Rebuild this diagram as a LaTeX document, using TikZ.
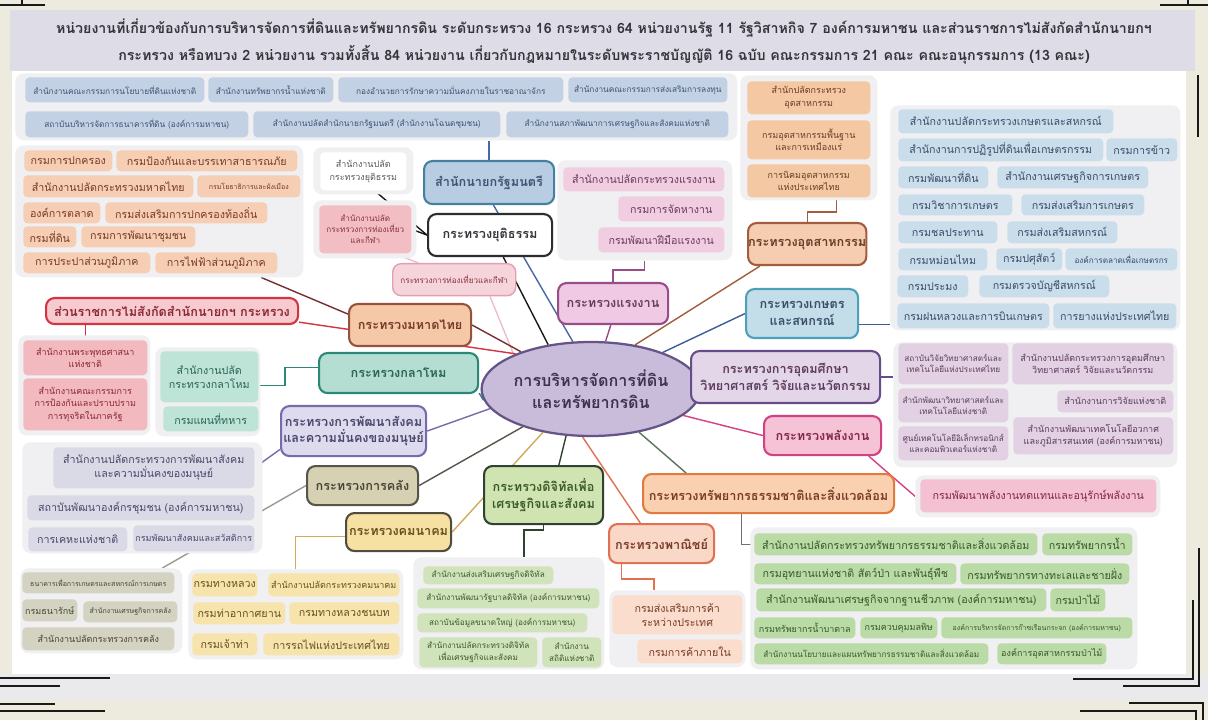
\documentclass[tikz,border=0pt]{standalone}
\usepackage{fontspec}
\setmainfont[Script=Thai]{Loma}
\usepackage{xcolor}
\usepackage{tikz}
\usetikzlibrary{shapes.geometric, calc}
\pgfdeclarelayer{paper}
\pgfdeclarelayer{links}
\pgfsetlayers{paper,links,main}
% neutral
\definecolor{papercream}{RGB}{236,235,222}
\definecolor{titlegray}{RGB}{222,220,230}
\definecolor{bandgray}{RGB}{234,234,237}
\definecolor{grpgray}{RGB}{240,240,243}
\definecolor{inkdark}{RGB}{52,52,58}
\definecolor{framedark}{RGB}{25,25,25}
% prime minister
\definecolor{pmfill}{RGB}{194,209,227}
\definecolor{pmtext}{RGB}{62,84,115}
\definecolor{pmnode}{RGB}{184,205,225}
\definecolor{pmedge}{RGB}{70,128,160}
\definecolor{pmlink}{RGB}{70,105,165}
% justice / tourism
\definecolor{jusedge}{RGB}{45,45,45}
\definecolor{jusleaftext}{RGB}{90,90,95}
\definecolor{tourfill}{RGB}{243,190,195}
\definecolor{tourtext}{RGB}{135,50,60}
\definecolor{tournode}{RGB}{246,212,220}
\definecolor{touredge}{RGB}{228,160,175}
\definecolor{tourlink}{RGB}{238,190,200}
% interior
\definecolor{intfill}{RGB}{246,206,180}
\definecolor{inttext}{RGB}{120,58,40}
\definecolor{intnode}{RGB}{245,200,168}
\definecolor{intedge}{RGB}{150,82,62}
\definecolor{intlink}{RGB}{118,48,48}
% non-affiliated
\definecolor{redfill}{RGB}{242,185,190}
\definecolor{redtext}{RGB}{140,40,52}
\definecolor{rednode}{RGB}{246,202,207}
\definecolor{rededge}{RGB}{210,52,66}
% defence
\definecolor{deffill}{RGB}{190,227,215}
\definecolor{deftext}{RGB}{42,100,86}
\definecolor{defnode}{RGB}{181,222,210}
\definecolor{defedge}{RGB}{44,136,118}
% social
\definecolor{socfill}{RGB}{218,218,231}
\definecolor{soctext}{RGB}{72,72,108}
\definecolor{socnode}{RGB}{223,219,238}
\definecolor{socedge}{RGB}{122,106,172}
% finance
\definecolor{finfill}{RGB}{212,210,192}
\definecolor{fintext}{RGB}{70,70,55}
\definecolor{finnode}{RGB}{215,209,180}
\definecolor{finedge}{RGB}{85,85,72}
% transport
\definecolor{tpfill}{RGB}{247,228,172}
\definecolor{tptext}{RGB}{100,80,30}
\definecolor{tpnode}{RGB}{246,224,162}
\definecolor{tpedge}{RGB}{80,76,62}
\definecolor{tplink}{RGB}{210,170,90}
% digital
\definecolor{digfill}{RGB}{208,227,186}
\definecolor{digtext}{RGB}{60,90,42}
\definecolor{dignode}{RGB}{208,228,178}
\definecolor{digedge}{RGB}{50,66,50}
% commerce
\definecolor{comfill}{RGB}{251,221,205}
\definecolor{comtext}{RGB}{122,60,42}
\definecolor{comnode}{RGB}{250,216,199}
\definecolor{comedge}{RGB}{226,112,82}
% natural resources
\definecolor{nrfill}{RGB}{186,218,166}
\definecolor{nrtext}{RGB}{56,90,40}
\definecolor{nrnode}{RGB}{249,208,176}
\definecolor{nredge}{RGB}{226,122,62}
\definecolor{nrlink}{RGB}{88,118,88}
% energy
\definecolor{enfill}{RGB}{243,193,209}
\definecolor{entext}{RGB}{130,40,70}
\definecolor{ennode}{RGB}{245,194,214}
\definecolor{enedge}{RGB}{210,66,130}
% higher education
\definecolor{hefill}{RGB}{226,208,227}
\definecolor{hetext}{RGB}{92,60,92}
\definecolor{henode}{RGB}{228,214,233}
\definecolor{heedge}{RGB}{102,76,136}
% agriculture
\definecolor{agfill}{RGB}{202,221,235}
\definecolor{agtext}{RGB}{60,76,106}
\definecolor{agnode}{RGB}{195,221,233}
\definecolor{agedge}{RGB}{76,160,186}
\definecolor{aglink}{RGB}{62,92,154}
% industry
\definecolor{indfill}{RGB}{245,200,164}
\definecolor{indtext}{RGB}{106,60,40}
\definecolor{indnode}{RGB}{247,205,177}
\definecolor{indedge}{RGB}{162,92,62}
% labour
\definecolor{labfill}{RGB}{241,205,225}
\definecolor{labtext}{RGB}{106,60,92}
\definecolor{labnode}{RGB}{240,202,228}
\definecolor{labedge}{RGB}{152,76,136}
% hub
\definecolor{hubfill}{RGB}{200,188,218}
\definecolor{hubedge}{RGB}{100,84,136}
\definecolor{hubtext}{RGB}{62,50,80}

\newcommand{\fleaf}{\fontsize{7.6}{10}\selectfont}
\newcommand{\fsmall}{\fontsize{6.4}{9}\selectfont}
\newcommand{\fband}{\fontsize{5.9}{8}\selectfont}
\newcommand{\ftiny}{\fontsize{5.8}{8}\selectfont}
\newcommand{\fmicro}{\fontsize{5}{7}\selectfont}
\newcommand{\fmin}{\bfseries\fontsize{9}{12}\selectfont}
\newcommand{\fhub}{\bfseries\fontsize{11.5}{16}\selectfont}
\newcommand{\fhead}{\bfseries\fontsize{10.1}{12}\selectfont}

\tikzset{
  grp/.style={rectangle, rounded corners=6pt, fill=grpgray, inner sep=0pt, anchor=north west},
  sz/.style 2 args={minimum width=#1*0.025cm, minimum height=#2*0.025cm},
  leaf/.style={rectangle, rounded corners=3pt, inner sep=0pt, align=center, anchor=north west, font=\fleaf},
  ministry/.style={rectangle, rounded corners=6pt, line width=1.5pt, inner sep=0pt, align=center, anchor=north west, font=\fmin},
  conn/.style={line width=1pt},
  frameline/.style={line width=2pt, draw=framedark},
  pmleaf/.style={leaf, fill=pmfill, text=pmtext},
  jusleaf/.style={leaf, fill=white, text=jusleaftext},
  tourleaf/.style={leaf, fill=tourfill, text=tourtext},
  intleaf/.style={leaf, fill=intfill, text=inttext},
  redleaf/.style={leaf, fill=redfill, text=redtext},
  defleaf/.style={leaf, fill=deffill, text=deftext},
  socleaf/.style={leaf, fill=socfill, text=soctext},
  finleaf/.style={leaf, fill=finfill, text=fintext},
  tpleaf/.style={leaf, fill=tpfill, text=tptext},
  digleaf/.style={leaf, fill=digfill, text=digtext},
  comleaf/.style={leaf, fill=comfill, text=comtext},
  nrleaf/.style={leaf, fill=nrfill, text=nrtext},
  enleaf/.style={leaf, fill=enfill, text=entext},
  heleaf/.style={leaf, fill=hefill, text=hetext},
  agleaf/.style={leaf, fill=agfill, text=agtext},
  indleaf/.style={leaf, fill=indfill, text=indtext},
  lableaf/.style={leaf, fill=labfill, text=labtext}
}

\begin{document}
\begin{tikzpicture}[x=0.025cm, y=-0.025cm]
  \useasboundingbox (0,0) rectangle (1208,720);

  % ── paper, title band and frame corners ──
  \begin{pgfonlayer}{paper}
    \fill[papercream] (0,0) rectangle (1208,720);
    \fill[titlegray] (10,10) rectangle (1195,71);
    \fill[white] (12,71) rectangle (1186,674);
    \fill[bandgray] (0,674) rectangle (1208,700);
    \draw[frameline] (0,5) -- (45,5);
    \draw[frameline] (22,0) -- (22,6);
    \draw[frameline] (1160,5) -- (1208,5);
    \draw[frameline] (1188,0) -- (1188,6);
    \draw[frameline] (1198,75) -- (1198,137);
    \draw[frameline] (0,678) -- (110,678);
    \draw[frameline] (0,686) -- (60,686);
    \draw[frameline] (0,704) -- (55,704);
    \draw[frameline] (0,711) -- (105,711);
    \draw[frameline] (1199,548) -- (1199,686) -- (1123,686);
    \draw[frameline] (1193,600) -- (1193,679) -- (1073,679);
    \draw[frameline] (1129,703) -- (1203,703) -- (1203,720);
    \draw[frameline] (1080,711) -- (1196,711) -- (1196,720);
  \end{pgfonlayer}

  \node[font=\fhead, text=inkdark] (head1) at (604,28) {หน่วยงานที่เกี่ยวข้องกับการบริหารจัดการที่ดินและทรัพยากรดิน ระดับกระทรวง 16 กระทรวง 64 หน่วยงานรัฐ 11 รัฐวิสาหกิจ 7 องค์การมหาชน และส่วนราชการไม่สังกัดสำนักนายกฯ};
  \node[font=\fhead, text=inkdark] (head2) at (604,55) {กระทรวง หรือทบวง 2 หน่วยงาน รวมทั้งสิ้น 84 หน่วยงาน เกี่ยวกับกฎหมายในระดับพระราชบัญญัติ 16 ฉบับ คณะกรรมการ 21 คณะ คณะอนุกรรมการ (13 คณะ)};

  % ── hub ──
  \node[ellipse, draw=hubedge, fill=hubfill, line width=1.6pt, minimum width=174*0.025cm, minimum height=94*0.025cm, inner sep=0pt, align=center, font=\fhub, text=hubtext] (hub) at (591,389) {การบริหารจัดการที่ดิน\\และทรัพยากรดิน};

  % ── Prime Minister's Office (top band) ──
  \node[grp, sz={722}{67}] (pmgrp) at (15,73) {};
  \node[pmleaf, font=\fband, sz={179}{25}] (pm1) at (25,77) {สำนักงานคณะกรรมการนโยบายที่ดินแห่งชาติ};
  \node[pmleaf, font=\fband, sz={125}{25}] (pm2) at (208,77) {สำนักงานทรัพยากรน้ำแห่งชาติ};
  \node[pmleaf, font=\fband, sz={225}{25}] (pm3) at (338,77) {กองอำนวยการรักษาความมั่นคงภายในราชอาณาจักร};
  \node[pmleaf, font=\fband, sz={159}{25}] (pm4) at (568,77) {สำนักงานคณะกรรมการส่งเสริมการลงทุน};
  \node[pmleaf, font=\fband, sz={223}{26}] (pm5) at (25,111) {สถาบันบริหารจัดการธนาคารที่ดิน (องค์การมหาชน)};
  \node[pmleaf, font=\fband, sz={247}{26}] (pm6) at (253,111) {สำนักงานปลัดสำนักนายกรัฐมนตรี (สำนักงานโฉนดชุมชน)};
  \node[pmleaf, font=\fband, sz={222}{26}] (pm7) at (506,111) {สำนักงานสภาพัฒนาการเศรษฐกิจและสังคมแห่งชาติ};
  \node[ministry, draw=pmedge, fill=pmnode, text=pmtext, sz={130}{43}] (pm) at (423,160) {สำนักนายกรัฐมนตรี};

  % ── Justice and Tourism ──
  \node[grp, sz={100}{47}] (jusgrp) at (313,147) {};
  \node[jusleaf, font=\fsmall, sz={86}{38}] (jussub) at (320,152) {สำนักงานปลัด\\กระทรวงยุติธรรม};
  \node[grp, sz={103}{58}] (tougrp) at (313,200) {};
  \node[tourleaf, font=\ftiny, sz={92}{48}] (tousub) at (319,205) {สำนักงานปลัด\\กระทรวงการท่องเที่ยว\\และกีฬา};
  \node[ministry, draw=jusedge, fill=white, text=inkdark, sz={124}{42}] (jus) at (427,213) {กระทรวงยุติธรรม};
  \node[ministry, line width=1pt, draw=touredge, fill=tournode, text=tourtext, font=\ftiny, sz={123}{32}] (tour) at (392,263) {กระทรวงการท่องเที่ยวและกีฬา};

  % ── Interior ──
  \node[grp, sz={288}{132}] (intgrp) at (15,145) {};
  \node[intleaf, sz={88}{21}] (int1) at (24,150) {กรมการปกครอง};
  \node[intleaf, sz={181}{21}] (int2) at (116,150) {กรมป้องกันและบรรเทาสาธารณภัย};
  \node[intleaf, sz={170}{22}] (int3) at (23,175) {สำนักงานปลัดกระทรวงมหาดไทย};
  \node[intleaf, font=\fmicro, sz={103}{22}] (int4) at (197,175) {กรมโยธาธิการและผังเมือง};
  \node[intleaf, sz={77}{21}] (int5) at (23,202) {องค์การตลาด};
  \node[intleaf, sz={162}{21}] (int6) at (105,202) {กรมส่งเสริมการปกครองท้องถิ่น};
  \node[intleaf, sz={53}{21}] (int7) at (23,226) {กรมที่ดิน};
  \node[intleaf, sz={114}{21}] (int8) at (81,226) {กรมการพัฒนาชุมชน};
  \node[intleaf, sz={127}{21}] (int9) at (23,252) {การประปาส่วนภูมิภาค};
  \node[intleaf, sz={122}{21}] (int10) at (155,252) {การไฟฟ้าส่วนภูมิภาค};
  \node[ministry, draw=intedge, fill=intnode, text=inttext, sz={122}{42}] (int) at (348,303) {กระทรวงมหาดไทย};

  % ── units outside the PM's Office and ministries ──
  \node[ministry, draw=rededge, fill=rednode, text=redtext, sz={252}{26}] (nonmin) at (45,297) {ส่วนราชการไม่สังกัดสำนักนายกฯ กระทรวง};
  \node[grp, sz={132}{100}] (redgrp) at (18,335) {};
  \node[redleaf, font=\fsmall, sz={124}{35}] (rd1) at (23,340) {สำนักงานพระพุทธศาสนา\\แห่งชาติ};
  \node[redleaf, font=\fsmall, sz={124}{52}] (rd2) at (23,378) {สำนักงานคณะกรรมการ\\การป้องกันและปราบปราม\\การทุจริตในภาครัฐ};

  % ── Defence ──
  \node[grp, sz={105}{89}] (defgrp) at (155,347) {};
  \node[defleaf, sz={98}{51}] (df1) at (160,351) {สำนักงานปลัด\\กระทรวงกลาโหม};
  \node[defleaf, sz={95}{25}] (df2) at (163,406) {กรมแผนที่ทหาร};
  \node[ministry, draw=defedge, fill=defnode, text=deftext, sz={159}{40}] (def) at (318,352) {กระทรวงกลาโหม};

  % ── Social Development ──
  \node[grp, sz={240}{111}] (socgrp) at (22,442) {};
  \node[socleaf, sz={201}{41}] (so1) at (53,447) {สำนักงานปลัดกระทรวงการพัฒนาสังคม\\และความมั่นคงของมนุษย์};
  \node[socleaf, sz={227}{25}] (so2) at (27,495) {สถาบันพัฒนาองค์กรชุมชน (องค์การมหาชน)};
  \node[socleaf, sz={99}{24}] (so3) at (28,527) {การเคหะแห่งชาติ};
  \node[socleaf, font=\fsmall, sz={121}{26}] (so4) at (133,525) {กรมพัฒนาสังคมและสวัสดิการ};
  \node[ministry, draw=socedge, fill=socnode, text=soctext, sz={145}{50}] (soc) at (280,405) {กระทรวงการพัฒนาสังคม\\และความมั่นคงของมนุษย์};

  % ── Finance ──
  \node[grp, sz={162}{85}] (fingrp) at (20,568) {};
  \node[finleaf, font=\fmicro, sz={152}{21}] (fn1) at (22,572) {ธนาคารเพื่อการเกษตรและสหกรณ์การเกษตร};
  \node[finleaf, font=\fsmall, sz={55}{22}] (fn2) at (22,599) {กรมธนารักษ์};
  \node[finleaf, font=\fmicro, sz={94}{21}] (fn3) at (83,601) {สำนักงานเศรษฐกิจการคลัง};
  \node[finleaf, font=\fsmall, sz={152}{23}] (fn4) at (22,627) {สำนักงานปลัดกระทรวงการคลัง};
  \node[ministry, draw=finedge, fill=finnode, text=fintext, sz={111}{39}] (fin) at (306,465) {กระทรวงการคลัง};

  % ── Transport ──
  \node[grp, sz={215}{90}] (tpgrp) at (188,569) {};
  \node[tpleaf, sz={65}{23}] (tp1) at (192,573) {กรมทางหลวง};
  \node[tpleaf, font=\fsmall, sz={131}{23}] (tp2) at (268,573) {สำนักงานปลัดกระทรวงคมนาคม};
  \node[tpleaf, sz={92}{22}] (tp3) at (193,602) {กรมท่าอากาศยาน};
  \node[tpleaf, sz={110}{22}] (tp4) at (289,602) {กรมทางหลวงชนบท};
  \node[tpleaf, sz={65}{22}] (tp5) at (192,633) {กรมเจ้าท่า};
  \node[tpleaf, sz={136}{22}] (tp6) at (263,633) {การรถไฟแห่งประเทศไทย};
  \node[ministry, draw=tpedge, fill=tpnode, text=tptext, sz={105}{38}] (tp) at (345,512) {กระทรวงคมนาคม};

  % ── Digital Economy and Society ──
  \node[grp, sz={191}{112}] (diggrp) at (413,557) {};
  \node[digleaf, font=\ftiny, sz={130}{18}] (dg1) at (423,566) {สำนักงานส่งเสริมเศรษฐกิจดิจิทัล};
  \node[digleaf, font=\ftiny, sz={182}{20}] (dg2) at (417,588) {สำนักงานพัฒนารัฐบาลดิจิทัล (องค์การมหาชน)};
  \node[digleaf, font=\ftiny, sz={170}{19}] (dg3) at (417,613) {สถาบันข้อมูลขนาดใหญ่ (องค์การมหาชน)};
  \node[digleaf, font=\ftiny, sz={118}{30}] (dg4) at (419,637) {สำนักงานปลัดกระทรวงดิจิทัล\\เพื่อเศรษฐกิจและสังคม};
  \node[digleaf, font=\ftiny, sz={59}{30}] (dg5) at (542,637) {สำนักงาน\\สถิติแห่งชาติ};
  \node[ministry, draw=digedge, fill=dignode, text=digtext, sz={119}{58}] (dig) at (483,465) {กระทรวงดิจิทัลเพื่อ\\เศรษฐกิจและสังคม};

  % ── Commerce ──
  \node[grp, sz={136}{77}] (comgrp) at (609,590) {};
  \node[comleaf, sz={130}{39}] (com1) at (612,595) {กรมส่งเสริมการค้า\\ระหว่างประเทศ};
  \node[comleaf, sz={105}{24}] (com2) at (637,639) {กรมการค้าภายใน};
  \node[ministry, draw=comedge, fill=comnode, text=comtext, sz={105}{39}] (com) at (608,523) {กระทรวงพาณิชย์};

  % ── Natural Resources and Environment ──
  \node[grp, sz={387}{142}] (nrgrp) at (750,527) {};
  \node[nrleaf, sz={283}{22}] (nr1) at (754,533) {สำนักงานปลัดกระทรวงทรัพยากรธรรมชาติและสิ่งแวดล้อม};
  \node[nrleaf, sz={90}{22}] (nr2) at (1042,533) {กรมทรัพยากรน้ำ};
  \node[nrleaf, sz={202}{21}] (nr3) at (754,563) {กรมอุทยานแห่งชาติ สัตว์ป่า และพันธุ์พืช};
  \node[nrleaf, sz={169}{21}] (nr4) at (960,563) {กรมทรัพยากรทางทะเลและชายฝั่ง};
  \node[nrleaf, sz={290}{23}] (nr5) at (756,588) {สำนักงานพัฒนาเศรษฐกิจจากฐานชีวภาพ (องค์การมหาชน)};
  \node[nrleaf, sz={55}{23}] (nr6) at (1050,588) {กรมป่าไม้};
  \node[nrleaf, font=\fsmall, sz={101}{21}] (nr7) at (754,617) {กรมทรัพยากรน้ำบาดาล};
  \node[nrleaf, font=\fsmall, sz={77}{21}] (nr8) at (860,617) {กรมควบคุมมลพิษ};
  \node[nrleaf, font=\fmicro, sz={191}{21}] (nr9) at (941,617) {องค์การบริหารจัดการก๊าซเรือนกระจก (องค์การมหาชน)};
  \node[nrleaf, font=\ftiny, sz={234}{21}] (nr10) at (754,643) {สำนักงานนโยบายและแผนทรัพยากรธรรมชาติและสิ่งแวดล้อม};
  \node[nrleaf, font=\fsmall, sz={109}{21}] (nr11) at (997,643) {องค์การอุตสาหกรรมป่าไม้};
  \node[ministry, draw=nredge, fill=nrnode, text=comtext, sz={251}{39}] (nr) at (642,473) {กระทรวงทรัพยากรธรรมชาติและสิ่งแวดล้อม};

  % ── Energy ──
  \node[grp, sz={245}{42}] (engrp) at (915,475) {};
  \node[enleaf, sz={236}{33}] (en1) at (920,479) {กรมพัฒนาพลังงานทดแทนและอนุรักษ์พลังงาน};
  \node[ministry, draw=enedge, fill=ennode, text=entext, sz={117}{39}] (en) at (763,415) {กระทรวงพลังงาน};

  % ── Higher Education, Science, Research and Innovation ──
  \node[grp, sz={284}{125}] (hegrp) at (893,342) {};
  \node[heleaf, font=\ftiny, sz={110}{41}] (he1) at (898,343) {สถาบันวิจัยวิทยาศาสตร์และ\\เทคโนโลยีแห่งประเทศไทย};
  \node[heleaf, font=\fsmall, sz={161}{41}] (he2) at (1012,343) {สำนักงานปลัดกระทรวงการอุดมศึกษา\\วิทยาศาสตร์ วิจัยและนวัตกรรม};
  \node[heleaf, font=\ftiny, sz={110}{34}] (he3) at (898,388) {สำนักพัฒนาวิทยาศาสตร์และ\\เทคโนโลยีแห่งชาติ};
  \node[heleaf, font=\fsmall, sz={116}{22}] (he4) at (1057,390) {สำนักงานการวิจัยแห่งชาติ};
  \node[heleaf, font=\ftiny, sz={110}{34}] (he5) at (898,426) {ศูนย์เทคโนโลยีอิเล็กทรอนิกส์\\และคอมพิวเตอร์แห่งชาติ};
  \node[heleaf, font=\fsmall, sz={160}{37}] (he6) at (1013,417) {สำนักงานพัฒนาเทคโนโลยีอวกาศ\\และภูมิสารสนเทศ (องค์การมหาชน)};
  \node[ministry, draw=heedge, fill=henode, text=hetext, sz={189}{52}] (he) at (690,350) {กระทรวงการอุดมศึกษา\\วิทยาศาสตร์ วิจัยและนวัตกรรม};

  % ── Agriculture and Cooperatives ──
  \node[grp, sz={290}{225}] (aggrp) at (890,105) {};
  \node[agleaf, sz={215}{24}] (ag1) at (898,109) {สำนักงานปลัดกระทรวงเกษตรและสหกรณ์};
  \node[agleaf, sz={205}{23}] (ag2) at (898,138) {สำนักงานการปฏิรูปที่ดินเพื่อเกษตรกรรม};
  \node[agleaf, sz={71}{23}] (ag3) at (1106,138) {กรมการข้าว};
  \node[agleaf, sz={90}{22}] (ag4) at (898,166) {กรมพัฒนาที่ดิน};
  \node[agleaf, sz={151}{22}] (ag5) at (997,166) {สำนักงานเศรษฐกิจการเกษตร};
  \node[agleaf, sz={114}{21}] (ag6) at (898,194) {กรมวิชาการเกษตร};
  \node[agleaf, sz={123}{21}] (ag7) at (1021,194) {กรมส่งเสริมการเกษตร};
  \node[agleaf, sz={99}{22}] (ag8) at (898,221) {กรมชลประทาน};
  \node[agleaf, sz={110}{22}] (ag9) at (1007,221) {กรมส่งเสริมสหกรณ์};
  \node[agleaf, sz={89}{22}] (ag10) at (898,248) {กรมหม่อนไหม};
  \node[agleaf, sz={66}{22}] (ag11) at (996,248) {กรมปศุสัตว์};
  \node[agleaf, font=\ftiny, sz={112}{22}] (ag12) at (1065,248) {องค์การตลาดเพื่อเกษตรกร};
  \node[agleaf, sz={71}{22}] (ag13) at (897,275) {กรมประมง};
  \node[agleaf, sz={130}{22}] (ag14) at (979,275) {กรมตรวจบัญชีสหกรณ์};
  \node[agleaf, sz={152}{25}] (ag15) at (897,303) {กรมฝนหลวงและการบินเกษตร};
  \node[agleaf, sz={123}{25}] (ag16) at (1053,303) {การยางแห่งประเทศไทย};
  \node[ministry, draw=agedge, fill=agnode, text=agtext, sz={112}{49}] (ag) at (745,288) {กระทรวงเกษตร\\และสหกรณ์};

  % ── Industry ──
  \node[grp, sz={137}{125}] (indgrp) at (740,75) {};
  \node[indleaf, font=\fsmall, sz={123}{33}] (ind1) at (747,81) {สำนักปลัดกระทรวง\\อุตสาหกรรม};
  \node[indleaf, font=\fsmall, sz={123}{39}] (ind2) at (747,120) {กรมอุตสาหกรรมพื้นฐาน\\และการเหมืองแร่};
  \node[indleaf, font=\fsmall, sz={123}{33}] (ind3) at (747,164) {การนิคมอุตสาหกรรม\\แห่งประเทศไทย};
  \node[ministry, draw=indedge, fill=indnode, text=indtext, sz={111}{42}] (ind) at (747,222) {กระทรวงอุตสาหกรรม};

  % ── Labour ──
  \node[grp, sz={175}{100}] (labgrp) at (557,160) {};
  \node[lableaf, sz={161}{24}] (lab1) at (563,167) {สำนักงานปลัดกระทรวงแรงงาน};
  \node[lableaf, sz={106}{25}] (lab2) at (618,196) {กรมการจัดหางาน};
  \node[lableaf, sz={126}{25}] (lab3) at (598,227) {กรมพัฒนาฝีมือแรงงาน};
  \node[ministry, draw=labedge, fill=labnode, text=labtext, sz={110}{41}] (lab) at (557,282) {กระทรวงแรงงาน};

  % ── connectors (under the boxes) ──
  \begin{pgfonlayer}{links}
    % spokes from the hub
    \draw[conn, pmlink] (pm.-79) -- (hub.111);
    \draw[conn, framedark] (jus.-59) -- (hub.134);
    \draw[conn, tourlink] (tour.-25) -- (hub.156);
    \draw[conn, intlink] (int.east) -- (hub.152);
    \draw[conn, rededge] (nonmin.-5) -- (hub.155);
    \draw[conn, defedge] (def.-14) -- (hub.-174);
    \draw[conn, socedge] (soc.east) -- (hub.-169);
    \draw[conn, finedge] (fin.east) -- (hub.-151);
    \draw[conn, tplink] (tp.east) -- (hub.-138);
    \draw[conn, digedge] (dig.63) -- (hub.-118);
    \draw[conn, comedge] (com.136) -- (hub.-100);
    \draw[conn, nrlink] (nr.166) -- (hub.-42);
    \draw[conn, enedge] (en.west) -- (hub.-16);
    \draw[conn, heedge] (he.west) -- (hub.10);
    \draw[conn, aglink] (ag.west) -- (hub.27);
    \draw[conn, indedge] (ind.-155) -- (hub.45);
    \draw[conn, labedge] (lab.-96) -- (hub.73);
    % ministries to their units
    \draw[conn, pmlink] (pm.north) -- (pm.north |- pmgrp.south);
    \draw[conn, framedark] (jus.west) -- (jussub.-60);
    \draw[conn, framedark] (jus.west) -- (tousub.east);
    \draw[conn, tourlink] (tour.155) -- (tousub.-40);
    \draw[conn, intlink] (int.170) -- (intgrp.-33);
    \draw[conn, rededge] (rd1.north |- nonmin.south) -- (rd1.north);
    \draw[conn, defedge] (def.176) -- ++(-33,0) |- (df1.-10);
    \draw[conn, socedge] (soc.-166) -- (so1.east);
    \draw[conn, finedge!60] (fin.west) -- (fingrp.35);
    \draw[conn, tplink] (tp.185) -| (tpgrp.north);
    \draw[conn, digedge] (dig.south) -- ++(0,5) -| (diggrp.75);
    \draw[conn, comedge] (com.-153) -- ++(0,15) -| (comgrp.121);
    \draw[conn, inkdark!70] (nr.-143) |- (nr1.west);
    \draw[conn, enedge] (en.-24) -- (engrp.west);
    \draw[conn, heedge] (he.east) -- (he.east -| hegrp.west);
    \draw[conn, aglink] (ag.-11) -- (ag.-11 -| aggrp.west);
    \draw[conn, indedge] (ind.north) -- ++(0,-10) -| (ind3.-31);
    \draw[conn, labedge] (lab.north) -- ++(0,-12) -| (labgrp.south);
  \end{pgfonlayer}
\end{tikzpicture}
\end{document}
